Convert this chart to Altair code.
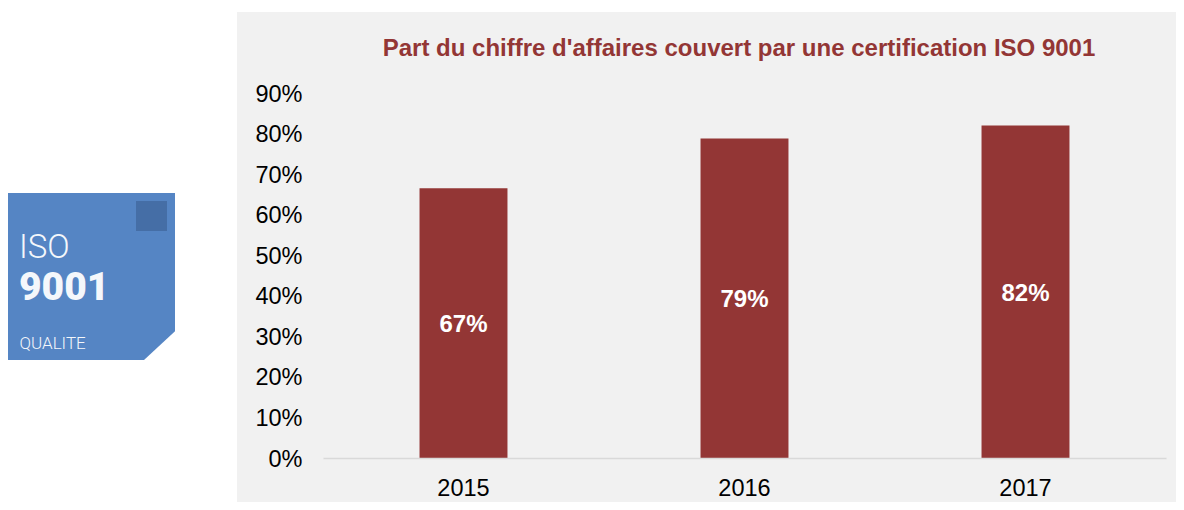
import altair as alt
import pandas as pd

years = ["2015", "2016", "2017"]
shares = [0.665, 0.788, 0.82]
labels = ["67%", "79%", "82%"]
title_text = "Part du chiffre d'affaires couvert par une certification ISO 9001"

FONT = "Liberation Sans"
RED = "#933635"
BLUE = "#5585c4"

df = pd.DataFrame({"year": years, "share": shares, "label": labels})
one = alt.Data(values=[{"k": 1}])

# pixel offsets relative to the plot origin (323, 93 on the page)
def X(px):
    return alt.value(px - 323)

def Y(py):
    return alt.value(py - 93)

panel = alt.Chart(one).mark_rect(color="#f1f1f1").encode(
    x=X(237), x2=X(1184), y=Y(12), y2=Y(510))
logo = alt.Chart(one).mark_rect(color=BLUE).encode(
    x=X(8), x2=X(175), y=Y(193), y2=Y(360))
logo_sq = alt.Chart(one).mark_rect(color="#456ea6").encode(
    x=X(136), x2=X(167), y=Y(201), y2=Y(231))
corner = alt.Chart(one).mark_point(
    shape="M 1 1 L -1 1 L 1 -0.85 Z", filled=True, color="white", opacity=1, size=961
).encode(x=X(159.5), y=Y(344.5))


def logo_text(text, px, py, size, weight, font, color="#f4f7fb"):
    return alt.Chart(one).mark_text(
        text=text, align="left", baseline="alphabetic", fontSize=size,
        fontWeight=weight, font=font, color=color
    ).encode(x=X(px), y=Y(py))


iso = logo_text("ISO", 19, 258, 33, 300, "Roboto")
n9001 = logo_text("9001", 19, 300, 39, 900, "Roboto")
qual = logo_text("QUALITE", 19.5, 349, 17, 300, "Roboto")

title = alt.Chart(one).mark_text(
    text=title_text, align="center", baseline="middle", fontSize=24,
    fontWeight="bold", font=FONT, color=RED
).encode(x=X(739), y=Y(48.5))

x_enc = alt.X("year:N", title=None,
              scale=alt.Scale(paddingInner=0.687, paddingOuter=0.3435),
              axis=alt.Axis(labelAngle=0, labelFont=FONT, labelFontSize=23.5, labelColor="#000000",
                            labelPadding=18, ticks=False, domainColor="#d9d9d9", domainWidth=1.5,
                            grid=False, zindex=1))
y_enc = alt.Y("share:Q", title=None,
              scale=alt.Scale(domain=[0, 0.9], nice=False),
              axis=alt.Axis(format=".0%", values=[i / 10 for i in range(10)], labelFont=FONT,
                            labelFontSize=23.5, labelColor="#000000", labelPadding=21, ticks=False,
                            labelOffset=1, domain=False, grid=False, zindex=1))

bars = alt.Chart(df).mark_bar(color=RED).encode(x=x_enc, y=y_enc)
text = alt.Chart(df).transform_calculate(mid="datum.share / 2").mark_text(
    font=FONT, fontSize=24, fontWeight="bold", color="white", baseline="middle", dy=2
).encode(x=alt.X("year:N"), y=alt.Y("mid:Q"), text="label:N")

chart = alt.layer(
    panel, logo, logo_sq, corner, iso, n9001, qual, title, bars, text
).properties(
    width=843, height=365,
    padding={"left": 315, "top": 85, "right": 10, "bottom": 44},
    autosize=alt.AutoSizeParams(type="none"),
).configure_view(stroke=None)

chart.save("out.html", embed_options={"renderer": "svg", "actions": False})
